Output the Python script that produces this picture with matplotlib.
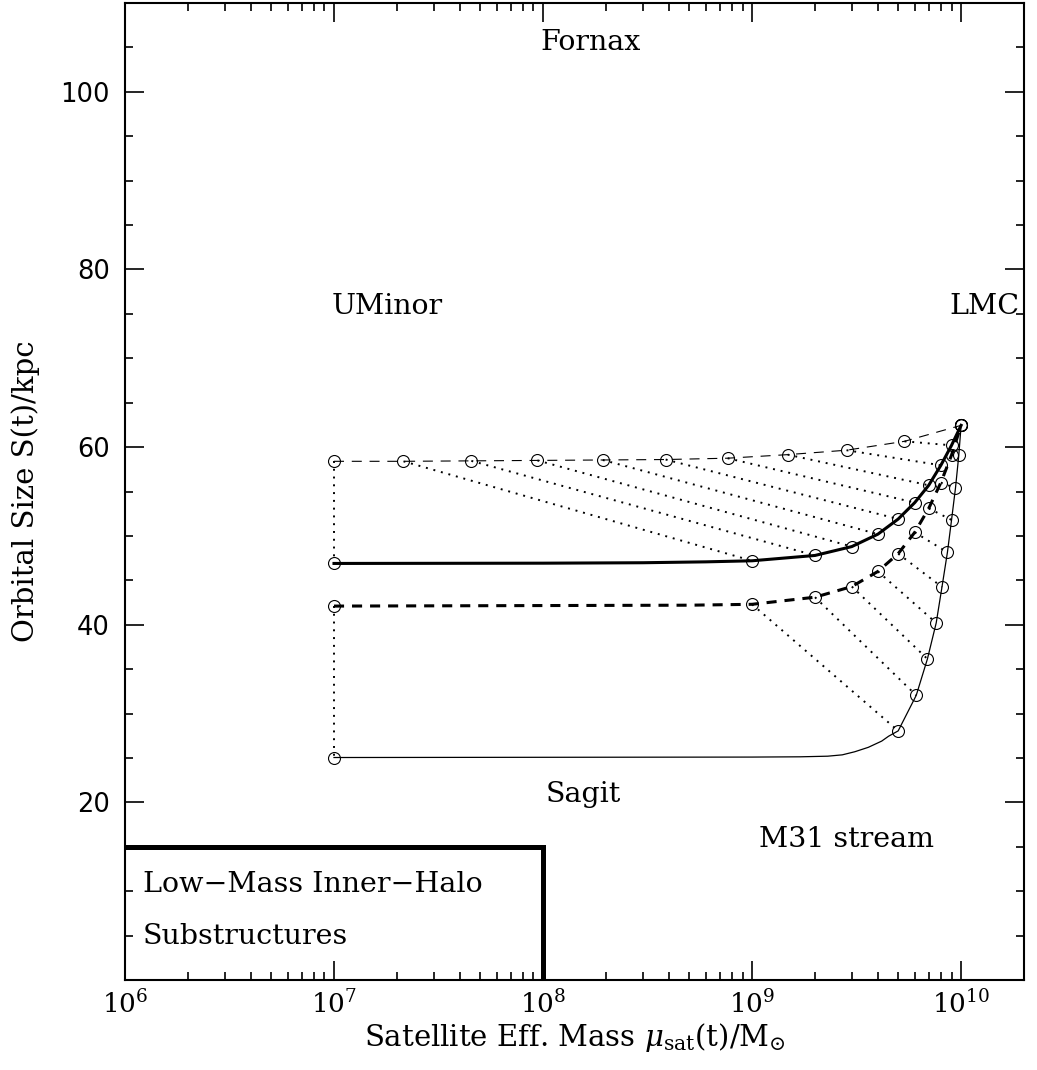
#!/usr/bin/env python3
"""Orbital size vs satellite effective mass, tidal-stripping tracks."""
import matplotlib
matplotlib.use("Agg")
import matplotlib.pyplot as plt
from matplotlib.ticker import LogLocator, MultipleLocator, FuncFormatter

plt.rcParams["font.family"] = "DejaVu Serif"
plt.rcParams["mathtext.fontset"] = "dejavuserif"

# ── Data ──────────────────────────────────────────────────────────────────────
# Upper thin dashed track (initial orbit) – circle markers
A_MASS = [1.0e7, 2.15e7, 4.54e7, 9.4e7, 1.93e8, 3.86e8, 7.64e8,
          1.48e9, 2.83e9, 5.36e9, 1.0e10]
A_SIZE = [58.4, 58.4, 58.45, 58.5, 58.55, 58.6, 58.75,
          59.15, 59.65, 60.65, 62.45]

# Thick solid track – circle markers
B_MASS = [1.0e7, 1.0e9, 2.0e9, 3.0e9, 4.0e9, 5.0e9, 6.0e9,
          7.0e9, 8.0e9, 9.0e9, 1.0e10]
B_SIZE = [46.9, 47.2, 47.8, 48.8, 50.2, 51.9, 53.75,
          55.7, 57.95, 60.2, 62.45]
# extra points along the thick solid line
B_LINE_MASS = [1.0e7, 1.0e8, 3.0e8, 6.0e8] + B_MASS[1:]
B_LINE_SIZE = [46.9, 46.93, 46.98, 47.08] + B_SIZE[1:]

# Thick dashed track – circle markers
C_MASS = [1.0e7, 1.0e9, 2.0e9, 3.0e9, 4.0e9, 5.0e9, 6.0e9,
          7.0e9, 8.0e9, 9.0e9, 1.0e10]
C_SIZE = [42.1, 42.3, 43.1, 44.3, 46.0, 48.0, 50.4,
          53.1, 56.0, 59.1, 62.45]
C_LINE_MASS = [1.0e7, 5.0e8] + C_MASS[1:]
C_LINE_SIZE = [42.1, 42.2] + C_SIZE[1:]

# Thin solid track – circle markers
D_MASS = [1.0e7, 5.0e9, 6.1e9, 6.9e9, 7.6e9, 8.1e9, 8.6e9,
          9.0e9, 9.4e9, 9.75e9, 1.0e10]
D_SIZE = [25.05, 28.05, 32.05, 36.15, 40.2, 44.25, 48.15,
          51.8, 55.4, 59.1, 62.45]
D_LINE_MASS = [1.0e7, 1.0e9, 1.7e9, 2.3e9, 2.7e9, 3.1e9, 3.6e9,
               4.17e9, 4.5e9] + D_MASS[1:]
D_LINE_SIZE = [25.05, 25.1, 25.13, 25.2, 25.35, 25.7, 26.2,
               26.9, 27.45] + D_SIZE[1:]

# Low-mass inner-halo box corner
BOX_MASS = [1.0e6, 1.0e8, 1.0e8]
BOX_SIZE = [15.0, 15.0, 0.0]

# Object labels: (text, mass, size)
OBJ_LABELS = [
    ("Fornax", 1.68e8, 105.6),
    ("UMinor", 1.8e7, 75.8),
    ("LMC", 1.3e10, 75.8),
    ("Sagit", 1.55e8, 20.9),
    ("M31 stream", 2.82e9, 15.85),
]

fig = plt.figure(figsize=(10.37, 10.70), dpi=100)
ax = fig.add_axes([0.1205, 0.0841, 0.867, 0.9131])

# dotted connectors between corresponding points
dot = dict(color="black", lw=1.4, ls=(0, (1, 3)), zorder=2)
for i in range(len(A_MASS) - 1):
    ax.plot([A_MASS[i], B_MASS[i]], [A_SIZE[i], B_SIZE[i]], **dot)
for i in range(len(C_MASS) - 1):
    ax.plot([C_MASS[i], D_MASS[i]], [C_SIZE[i], D_SIZE[i]], **dot)

# tracks
ax.plot(A_MASS, A_SIZE, color="black", lw=0.8, ls=(0, (9, 7)), zorder=3)
ax.plot(B_LINE_MASS, B_LINE_SIZE, color="black", lw=2.2, zorder=3)
ax.plot(C_LINE_MASS, C_LINE_SIZE, color="black", lw=2.2, ls=(0, (3.3, 2.6)), zorder=3)
ax.plot(D_LINE_MASS, D_LINE_SIZE, color="black", lw=0.9, zorder=3)

mk = dict(ls="none", marker="o", ms=8.6, mfc="none", mec="black", mew=0.8, zorder=4)
for m, s in [(A_MASS, A_SIZE), (B_MASS, B_SIZE), (C_MASS, C_SIZE), (D_MASS, D_SIZE)]:
    ax.plot(m, s, **mk)

# box
ax.plot(BOX_MASS, BOX_SIZE, color="black", lw=3.6, solid_joinstyle="miter", zorder=3)

for txt, m, s in OBJ_LABELS:
    ax.text(m, s, txt, ha="center", va="center", fontsize=20.5)
ax.text(1.22e6, 10.7, "Low\u2212Mass Inner\u2212Halo", ha="left", va="center", fontsize=20.5)
ax.text(1.22e6, 4.85, "Substructures", ha="left", va="center", fontsize=20.5)

ax.set_xscale("log")
ax.set_xlim(1e6, 2e10)
ax.set_ylim(0, 110)
ax.xaxis.set_major_locator(LogLocator(base=10, numticks=10))
ax.xaxis.set_minor_locator(LogLocator(base=10, subs=range(2, 10), numticks=20))
ax.yaxis.set_major_locator(MultipleLocator(20))
ax.yaxis.set_minor_locator(MultipleLocator(5))
ax.yaxis.set_major_formatter(FuncFormatter(lambda v, p: "" if v == 0 else f"{v:.0f}"))
ax.tick_params(which="both", direction="in", top=True, right=True, width=1.2)
ax.tick_params(which="major", length=13.5)
ax.tick_params(which="minor", length=6)
ax.tick_params(axis="x", which="major", labelsize=19, pad=7)
ax.tick_params(axis="y", which="major", labelsize=18.5, pad=11)
for lab in ax.get_yticklabels():
    lab.set_family("DejaVu Sans")
for sp in ax.spines.values():
    sp.set_linewidth(1.5)

ax.set_xlabel(r"Satellite Eff. Mass $\mu_{\rm sat}$(t)/M$_{\odot}$", fontsize=21)
ax.xaxis.set_label_coords(0.5, -0.042)
ax.set_ylabel("Orbital Size S(t)/kpc", fontsize=21)
ax.yaxis.set_label_coords(-0.094, 0.5)

fig.savefig("out.png", dpi=100)
